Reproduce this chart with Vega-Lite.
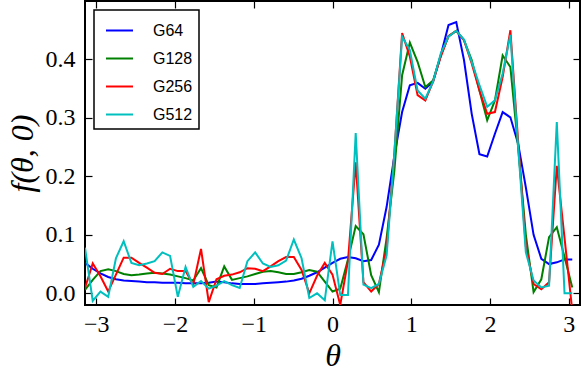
{
  "$schema": "https://vega.github.io/schema/vega-lite/v6.json",
  "width": 495,
  "height": 304,
  "autosize": {"type": "none"},
  "padding": {"left": 85, "top": 1, "right": 2, "bottom": 66},
  "background": "white",
  "data": {
    "values": [
      {"t": -3.1416, "G64": 0.052, "G128": 0.006, "G256": 0.009, "G512": 0.078},
      {"t": -3.0434, "G64": 0.042, "G128": 0.023, "G256": 0.051, "G512": -0.013},
      {"t": -2.9452, "G64": 0.034, "G128": 0.038, "G256": 0.029, "G512": 0.003},
      {"t": -2.8471, "G64": 0.028, "G128": 0.041, "G256": 0.003, "G512": -0.006},
      {"t": -2.7489, "G64": 0.024, "G128": 0.038, "G256": 0.032, "G512": 0.060},
      {"t": -2.6507, "G64": 0.022, "G128": 0.033, "G256": 0.061, "G512": 0.089},
      {"t": -2.5525, "G64": 0.021, "G128": 0.031, "G256": 0.061, "G512": 0.052},
      {"t": -2.4544, "G64": 0.020, "G128": 0.032, "G256": 0.052, "G512": 0.048},
      {"t": -2.3562, "G64": 0.019, "G128": 0.034, "G256": 0.044, "G512": 0.051},
      {"t": -2.2580, "G64": 0.019, "G128": 0.035, "G256": 0.035, "G512": 0.055},
      {"t": -2.1598, "G64": 0.018, "G128": 0.034, "G256": 0.033, "G512": 0.070},
      {"t": -2.0617, "G64": 0.018, "G128": 0.032, "G256": 0.042, "G512": 0.064},
      {"t": -1.9635, "G64": 0.018, "G128": 0.029, "G256": 0.038, "G512": -0.006},
      {"t": -1.8653, "G64": 0.017, "G128": 0.026, "G256": 0.038, "G512": 0.045},
      {"t": -1.7671, "G64": 0.017, "G128": 0.022, "G256": 0.015, "G512": 0.011},
      {"t": -1.6690, "G64": 0.017, "G128": 0.043, "G256": 0.076, "G512": 0.021},
      {"t": -1.5708, "G64": 0.018, "G128": 0.014, "G256": -0.015, "G512": 0.008},
      {"t": -1.4726, "G64": 0.020, "G128": 0.010, "G256": 0.024, "G512": 0.013},
      {"t": -1.3744, "G64": 0.019, "G128": 0.046, "G256": 0.030, "G512": 0.021},
      {"t": -1.2763, "G64": 0.017, "G128": 0.023, "G256": 0.032, "G512": 0.014},
      {"t": -1.1781, "G64": 0.016, "G128": 0.026, "G256": 0.036, "G512": 0.009},
      {"t": -1.0799, "G64": 0.016, "G128": 0.029, "G256": 0.043, "G512": 0.055},
      {"t": -0.9817, "G64": 0.016, "G128": 0.033, "G256": 0.042, "G512": 0.070},
      {"t": -0.8836, "G64": 0.017, "G128": 0.037, "G256": 0.038, "G512": 0.051},
      {"t": -0.7854, "G64": 0.018, "G128": 0.038, "G256": 0.046, "G512": 0.045},
      {"t": -0.6872, "G64": 0.019, "G128": 0.036, "G256": 0.055, "G512": 0.048},
      {"t": -0.5890, "G64": 0.020, "G128": 0.033, "G256": 0.062, "G512": 0.056},
      {"t": -0.4909, "G64": 0.022, "G128": 0.033, "G256": 0.062, "G512": 0.092},
      {"t": -0.3927, "G64": 0.025, "G128": 0.036, "G256": 0.040, "G512": 0.060},
      {"t": -0.2945, "G64": 0.030, "G128": 0.040, "G256": 0.000, "G512": -0.008},
      {"t": -0.1963, "G64": 0.036, "G128": 0.037, "G256": 0.030, "G512": 0.000},
      {"t": -0.0982, "G64": 0.044, "G128": 0.020, "G256": 0.052, "G512": -0.012},
      {"t": 0.0, "G64": 0.052, "G128": 0.003, "G256": 0.032, "G512": 0.089},
      {"t": 0.0982, "G64": 0.059, "G128": 0.008, "G256": -0.020, "G512": -0.003},
      {"t": 0.1963, "G64": 0.062, "G128": 0.058, "G256": 0.055, "G512": -0.003},
      {"t": 0.2945, "G64": 0.060, "G128": 0.115, "G256": 0.224, "G512": 0.274},
      {"t": 0.3927, "G64": 0.055, "G128": 0.101, "G256": 0.019, "G512": 0.015},
      {"t": 0.4909, "G64": 0.057, "G128": 0.031, "G256": 0.003, "G512": 0.009},
      {"t": 0.5890, "G64": 0.083, "G128": 0.002, "G256": 0.016, "G512": 0.016},
      {"t": 0.6872, "G64": 0.148, "G128": 0.095, "G256": 0.077, "G512": 0.065},
      {"t": 0.7854, "G64": 0.235, "G128": 0.210, "G256": 0.240, "G512": 0.240},
      {"t": 0.8836, "G64": 0.310, "G128": 0.373, "G256": 0.445, "G512": 0.439},
      {"t": 0.9817, "G64": 0.356, "G128": 0.429, "G256": 0.405, "G512": 0.416},
      {"t": 1.0799, "G64": 0.360, "G128": 0.396, "G256": 0.339, "G512": 0.347},
      {"t": 1.1781, "G64": 0.350, "G128": 0.353, "G256": 0.330, "G512": 0.333},
      {"t": 1.2763, "G64": 0.362, "G128": 0.364, "G256": 0.362, "G512": 0.362},
      {"t": 1.3744, "G64": 0.407, "G128": 0.407, "G256": 0.405, "G512": 0.410},
      {"t": 1.4726, "G64": 0.459, "G128": 0.440, "G256": 0.440, "G512": 0.439},
      {"t": 1.5708, "G64": 0.464, "G128": 0.449, "G256": 0.449, "G512": 0.449},
      {"t": 1.6690, "G64": 0.399, "G128": 0.433, "G256": 0.433, "G512": 0.434},
      {"t": 1.7671, "G64": 0.307, "G128": 0.399, "G256": 0.393, "G512": 0.396},
      {"t": 1.8653, "G64": 0.238, "G128": 0.347, "G256": 0.347, "G512": 0.356},
      {"t": 1.9635, "G64": 0.234, "G128": 0.296, "G256": 0.307, "G512": 0.319},
      {"t": 2.0617, "G64": 0.273, "G128": 0.330, "G256": 0.310, "G512": 0.330},
      {"t": 2.1598, "G64": 0.310, "G128": 0.407, "G256": 0.370, "G512": 0.376},
      {"t": 2.2580, "G64": 0.301, "G128": 0.387, "G256": 0.450, "G512": 0.442},
      {"t": 2.3562, "G64": 0.256, "G128": 0.250, "G256": 0.260, "G512": 0.250},
      {"t": 2.4544, "G64": 0.181, "G128": 0.100, "G256": 0.080, "G512": 0.070},
      {"t": 2.5525, "G64": 0.100, "G128": 0.002, "G256": 0.016, "G512": 0.022},
      {"t": 2.6507, "G64": 0.059, "G128": 0.024, "G256": 0.007, "G512": 0.010},
      {"t": 2.7489, "G64": 0.050, "G128": 0.096, "G256": 0.019, "G512": 0.013},
      {"t": 2.8471, "G64": 0.053, "G128": 0.113, "G256": 0.218, "G512": 0.293},
      {"t": 2.9452, "G64": 0.058, "G128": 0.062, "G256": 0.095, "G512": 0.000},
      {"t": 3.0434, "G64": 0.058, "G128": 0.010, "G256": -0.030, "G512": 0.000}
    ]
  },
  "transform": [
    {"fold": ["G64", "G128", "G256", "G512"], "as": ["series", "f"]}
  ],
  "layer": [
    {
      "mark": {"type": "line", "strokeWidth": 2, "clip": true},
      "encoding": {
        "x": {
          "field": "t", "type": "quantitative",
          "scale": {"domain": [-3.1416, 3.1416], "nice": false, "zero": false},
          "axis": {"orient": "bottom", "values": [-3, -2, -1, 0, 1, 2, 3], "format": "d", "title": "θ", "labelPadding": 14, "titlePadding": 4}
        },
        "y": {
          "field": "f", "type": "quantitative",
          "scale": {"domain": [-0.02, 0.5], "nice": false, "zero": false},
          "axis": {"orient": "left", "values": [0, 0.1, 0.2, 0.3, 0.4], "format": ".1f", "title": "f(θ, 0)", "labelPadding": 17, "titlePadding": 6}
        },
        "color": {
          "field": "series", "type": "nominal",
          "scale": {"domain": ["G64", "G128", "G256", "G512"], "range": ["#0000ff", "#008000", "#ff0000", "#00bfbf"]},
          "legend": {
            "orient": "none", "legendX": 9, "legendY": 9, "title": null,
            "strokeColor": "black", "fillColor": "white", "padding": 6,
            "symbolType": "stroke", "symbolStrokeWidth": 2, "symbolSize": 729, "symbolOffset": 5,
            "labelFont": "Liberation Sans", "labelFontSize": 16, "labelColor": "black",
            "labelOffset": 19, "rowPadding": 5,
            "labelExpr": "datum.label + '      '",
            "encode": {"legend": {"update": {"strokeWidth": {"value": 1.5}}}}
          }
        }
      }
    },
    {
      "mark": {"type": "line", "strokeOpacity": 0},
      "encoding": {
        "x": {"field": "t", "type": "quantitative", "axis": {"orient": "top", "values": [-3, -2, -1, 0, 1, 2, 3], "labels": false, "title": null}},
        "y": {"field": "f", "type": "quantitative", "axis": {"orient": "right", "values": [0, 0.1, 0.2, 0.3, 0.4], "labels": false, "title": null}}
      }
    }
  ],
  "resolve": {"axis": {"x": "independent", "y": "independent"}},
  "config": {
    "view": {"stroke": "black", "strokeWidth": 2},
    "axis": {
      "domain": false, "grid": false, "ticks": true, "tickSize": -7, "tickColor": "black", "tickWidth": 1.2,
      "labelFont": "Liberation Serif", "labelFontSize": 24, "labelColor": "black",
      "titleFont": "Liberation Serif", "titleFontSize": 32, "titleFontStyle": "italic", "titleFontWeight": "normal", "titleColor": "black"
    }
  }
}
